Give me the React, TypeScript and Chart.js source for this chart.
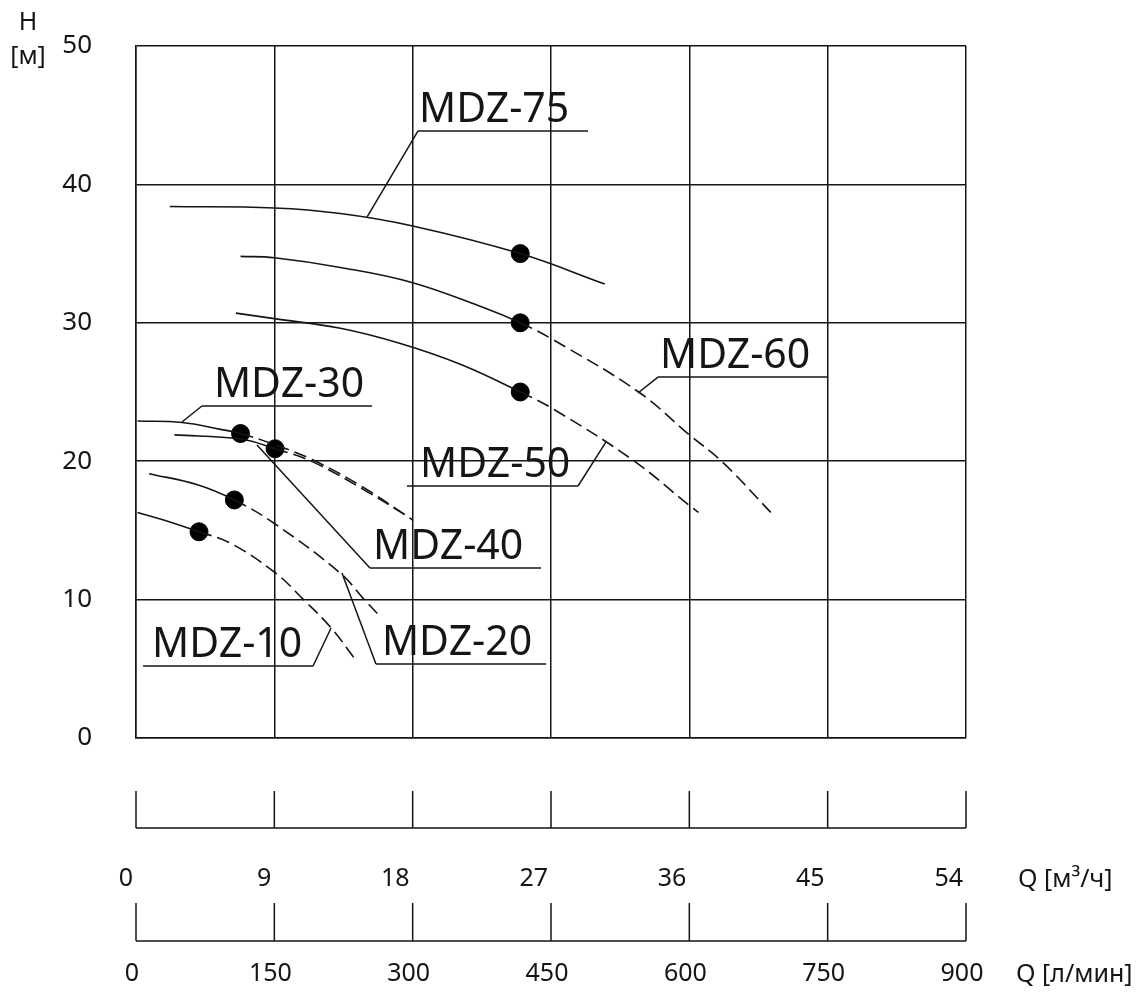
import React, { useEffect, useRef } from "react";
import { Chart, registerables } from "chart.js";

Chart.register(...registerables);

// ---- Data (Q in m³/h, H in m) ----
const qTicksM3h = [0, 9, 18, 27, 36, 45, 54];
const qTicksLmin = [0, 150, 300, 450, 600, 750, 900];
const hTicks = [0, 10, 20, 30, 40, 50];

const models = ["MDZ-75", "MDZ-60", "MDZ-50", "MDZ-40", "MDZ-30", "MDZ-20", "MDZ-10"];

const mdz75Q = [2.2, 9.0, 13.3, 18.0, 25.0, 30.5];
const mdz75H = [38.4, 38.3, 37.9, 37.0, 35.0, 32.8];

const mdz60Q = [6.8, 9.0, 13.3, 18.0, 22.6, 25.0, 27.1, 32.7, 36.0, 38.1, 41.3];
const mdz60H = [34.8, 34.7, 34.0, 32.9, 31.1, 30.0, 28.8, 25.0, 21.9, 20.0, 16.3];

const mdz50Q = [6.5, 9.0, 13.3, 17.2, 21.1, 25.0, 27.1, 32.3, 36.0, 36.6];
const mdz50H = [30.7, 30.3, 29.6, 28.5, 27.0, 25.0, 23.8, 20.1, 16.8, 16.3];

const mdz40Q = [2.5, 6.8, 9.05, 11.5, 14.8, 17.7];
const mdz40H = [21.9, 21.6, 20.9, 19.95, 17.95, 16.0];

const mdz30Q = [0.1, 3.0, 5.5, 6.8, 9.0, 11.5, 14.8, 18.0];
const mdz30H = [22.9, 22.8, 22.3, 22.0, 21.2, 20.1, 18.1, 15.75];

const mdz20Q = [0.85, 4.0, 6.4, 9.0, 13.3, 14.85, 15.7];
const mdz20H = [19.1, 18.3, 17.2, 15.5, 11.9, 10.0, 9.0];

const mdz10Q = [0.1, 1.8, 4.1, 6.1, 9.06, 10.9, 12.7, 14.25];
const mdz10H = [16.3, 15.75, 14.9, 14.1, 11.94, 10.0, 7.95, 5.7];

// rated (nominal) points
const ratedQ = [25.0, 25.0, 25.0, 9.05, 6.8, 6.4, 4.1];
const ratedH = [35.0, 30.0, 25.0, 20.9, 22.0, 17.2, 14.9];
// whether the curve continues dashed beyond the rated point
const dashedAfterRated = [false, true, true, true, true, true, true];

const curveQ = [mdz75Q, mdz60Q, mdz50Q, mdz40Q, mdz30Q, mdz20Q, mdz10Q];
const curveH = [mdz75H, mdz60H, mdz50H, mdz40H, mdz30H, mdz20H, mdz10H];

// label callouts, in data units: text x, underline x1..x2 at y, leader tip on curve
const labelTextQ = [18.41, 34.09, 18.48, 15.42, 5.07, 16.0, 1.04];
const underlineQ1 = [18.35, 33.96, 17.63, 15.22, 4.29, 15.61, 0.46];
const underlineQ2 = [29.41, 45.02, 28.76, 26.35, 15.35, 26.68, 11.52];
const underlineH = [43.86, 26.08, 18.21, 12.28, 23.99, 5.35, 5.2];
const leaderTipQ = [15.03, 32.66, 30.58, 7.87, 2.99, 13.4, 12.69];
const leaderTipH = [37.64, 24.93, 21.39, 21.17, 22.83, 11.92, 7.95];
const leaderFromRight = [false, false, true, false, false, false, true];

const FONT = '"Noto Sans", sans-serif';
const INK = "#151515";

const overlayPlugin = {
  id: "overlay",
  afterDatasetsDraw(chart: any) {
    const ctx = chart.ctx;
    const x = chart.scales.x;
    const y = chart.scales.y;
    ctx.save();
    ctx.strokeStyle = INK;
    ctx.fillStyle = INK;
    ctx.lineWidth = 1.5;
    ctx.font = `41px ${FONT}`;
    ctx.textAlign = "left";
    ctx.textBaseline = "alphabetic";
    models.forEach((name, i) => {
      const ux1 = x.getPixelForValue(underlineQ1[i]);
      const ux2 = x.getPixelForValue(underlineQ2[i]);
      const uy = y.getPixelForValue(underlineH[i]);
      const tx = x.getPixelForValue(leaderTipQ[i]);
      const ty = y.getPixelForValue(leaderTipH[i]);
      ctx.beginPath();
      ctx.moveTo(ux2, uy);
      ctx.lineTo(ux1, uy);
      ctx.stroke();
      ctx.beginPath();
      ctx.moveTo(leaderFromRight[i] ? ux2 : ux1, uy);
      ctx.lineTo(tx, ty);
      ctx.stroke();
      ctx.fillText(name, x.getPixelForValue(labelTextQ[i]), uy - 9);
    });
    ctx.restore();
  },
  afterDraw(chart: any) {
    const ctx = chart.ctx;
    const x = chart.scales.x;
    const area = chart.chartArea;
    const b = area.bottom;
    ctx.save();
    ctx.strokeStyle = INK;
    ctx.fillStyle = INK;
    ctx.lineWidth = 1.5;
    ctx.font = `25px ${FONT}`;
    ctx.textBaseline = "middle";

    // row 1 : m³/h
    const r1Base = b + 90;
    ctx.beginPath();
    ctx.moveTo(x.getPixelForValue(qTicksM3h[0]), r1Base);
    ctx.lineTo(x.getPixelForValue(qTicksM3h[qTicksM3h.length - 1]), r1Base);
    qTicksM3h.forEach((v) => {
      const px = x.getPixelForValue(v);
      ctx.moveTo(px, b + 53);
      ctx.lineTo(px, r1Base);
    });
    ctx.stroke();
    ctx.textAlign = "right";
    qTicksM3h.forEach((v) => {
      ctx.fillText(String(v), x.getPixelForValue(v) - 3, b + 141);
    });
    ctx.textAlign = "left";
    ctx.fillText("Q [м³/ч]", x.getPixelForValue(54) + 52, b + 142);

    // row 2 : l/min
    const r2Base = b + 203;
    const toM3h = (lmin: number) => (lmin * 60) / 1000;
    ctx.beginPath();
    ctx.moveTo(x.getPixelForValue(toM3h(qTicksLmin[0])), r2Base);
    ctx.lineTo(x.getPixelForValue(toM3h(qTicksLmin[qTicksLmin.length - 1])), r2Base);
    qTicksLmin.forEach((v) => {
      const px = x.getPixelForValue(toM3h(v));
      ctx.moveTo(px, b + 165);
      ctx.lineTo(px, r2Base);
    });
    ctx.stroke();
    ctx.textAlign = "center";
    qTicksLmin.forEach((v) => {
      ctx.fillText(String(v), x.getPixelForValue(toM3h(v)) - 4, b + 236);
    });
    ctx.textAlign = "left";
    ctx.fillText("Q [л/мин]", x.getPixelForValue(54) + 50, b + 237);

    // y-axis title
    ctx.textAlign = "center";
    ctx.fillText("H", area.left - 108, area.top - 23);
    ctx.fillText("[м]", area.left - 108, area.top + 11);
    ctx.restore();
  },
};

export default function App() {
  const ref = useRef<HTMLCanvasElement | null>(null);

  useEffect(() => {
    if (!ref.current) return;
    const curveSets = models.map((name, i) => {
      const rq = ratedQ[i];
      const dashed = dashedAfterRated[i];
      return {
        type: "line" as const,
        label: name,
        data: curveQ[i].map((q, j) => ({ x: q, y: curveH[i][j] })),
        borderColor: INK,
        borderWidth: 1.6,
        pointRadius: 0,
        fill: false,
        tension: 0.4,
        segment: {
          borderDash: (c: any) => (dashed && c.p0.parsed.x >= rq - 1e-6 ? [13, 6] : undefined),
        },
      };
    });
    const ratedSet = {
      type: "scatter" as const,
      label: "rated",
      data: ratedQ.map((q, i) => ({ x: q, y: ratedH[i] })),
      backgroundColor: "#000",
      borderColor: "#000",
      pointRadius: 9,
      pointHoverRadius: 9,
      showLine: false,
    };

    const chart = new Chart(ref.current, {
      type: "line",
      data: { datasets: [...curveSets, ratedSet] as any },
      options: {
        responsive: false,
        animation: false,
        events: [],
        layout: { padding: { left: 0, top: 46, right: 175, bottom: 0 } },
        plugins: { legend: { display: false }, tooltip: { enabled: false } },
        scales: {
          x: {
            type: "linear",
            min: 0,
            max: 54,
            afterFit: (s: any) => {
              s.height = 256;
            },
            afterBuildTicks: (s: any) => {
              s.ticks = qTicksM3h.map((v) => ({ value: v }));
            },
            grid: { color: INK, lineWidth: 1.5, drawTicks: false },
            border: { color: INK, width: 1.5 },
            ticks: { display: false },
          },
          y: {
            type: "linear",
            min: 0,
            max: 50,
            afterFit: (s: any) => {
              s.width = 136;
            },
            afterBuildTicks: (s: any) => {
              s.ticks = hTicks.map((v) => ({ value: v }));
            },
            grid: {
              color: INK,
              lineWidth: 1.5,
              drawTicks: true,
              tickLength: 44,
              tickColor: "rgba(0,0,0,0)",
            },
            border: { color: INK, width: 1.5 },
            ticks: {
              padding: 0,
              color: INK,
              font: { family: FONT, size: 26 },
            },
          },
        },
      },
      plugins: [overlayPlugin],
    });
    return () => chart.destroy();
  }, []);

  return (
    <div style={{ position: "absolute", left: 0, top: 0, width: 1141, height: 994, background: "#fff" }}>
      <canvas ref={ref} width={1141} height={994} style={{ width: 1141, height: 994, display: "block" }} />
    </div>
  );
}
